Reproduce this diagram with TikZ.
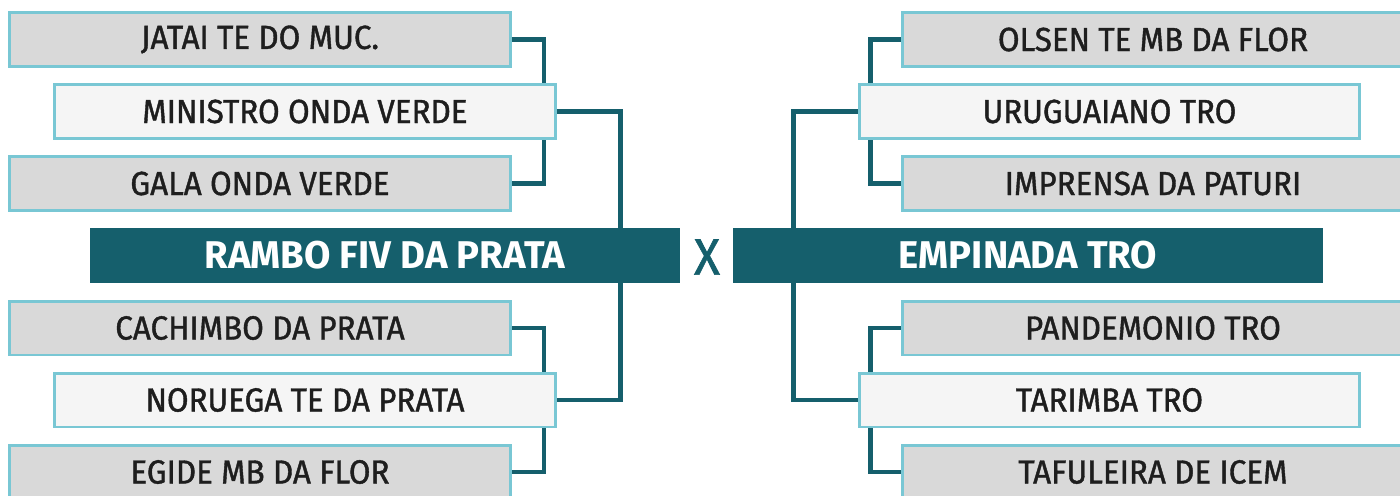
\documentclass[tikz,border=0pt]{standalone}
\usepackage{fontspec}
\setmainfont{Fira Sans}
\newfontfamily\teamfont{Fira Sans}[FakeStretch=0.94,FakeBold=1.2]
\newfontfamily\finalfont{Fira Sans}[FakeStretch=0.99]
\usetikzlibrary{backgrounds}
\definecolor{petrol}{HTML}{155F6C}
\definecolor{cyanline}{HTML}{79C7D4}
\definecolor{boxgray}{HTML}{D9D9D9}
\definecolor{boxlight}{HTML}{F5F5F5}
\definecolor{ink}{HTML}{1E1E1E}
\begin{document}
\begin{tikzpicture}[x=0.02cm,y=-0.02cm,
  team/.style={draw=cyanline,line width=1.7pt,fill=boxgray,minimum width=10.02cm,minimum height=1.08cm,inner sep=0pt,text=ink,font=\teamfont\fontsize{19}{19}\selectfont},
  seed/.style={team,fill=boxlight},
  final/.style={fill=petrol,minimum width=11.8cm,minimum height=1.1cm,inner sep=0pt,text=white,font=\finalfont\bfseries\fontsize{22}{22}\selectfont},
  link/.style={draw=petrol,line width=2.55pt}]
\useasboundingbox (0,0) rectangle (1400,495);
\clip (0,0) rectangle (1400,495);
% left half
\node[team] (jatai) at (260,39.5) {JATAI TE DO MUC.};
\node[seed] (ministro) at (305,111.5) {MINISTRO ONDA VERDE};
\node[team] (gala) at (260,183.5) {GALA ONDA VERDE};
\node[final] (rambo) at (385,255.5) {RAMBO FIV DA PRATA};
\node[team] (cachimbo) at (260,328) {CACHIMBO DA PRATA};
\node[seed] (noruega) at (305,400) {NORUEGA TE DA PRATA};
\node[team] (egide) at (260,472) {EGIDE MB DA FLOR};
\node[text=petrol,font=\teamfont\fontsize{29}{29}\selectfont] (versus) at (707,257) {X};
% right half
\node[team] (olsen) at (1153,39.5) {OLSEN TE MB DA FLOR};
\node[seed] (uruguaiano) at (1109.5,111.5) {URUGUAIANO TRO};
\node[team] (imprensa) at (1153,183.5) {IMPRENSA DA PATURI};
\node[final] (empinada) at (1028,255.5) {EMPINADA TRO};
\node[team] (pandemonio) at (1153,328) {PANDEMONIO TRO};
\node[seed] (tarimba) at (1109.5,400) {TARIMBA TRO};
\node[team] (tafuleira) at (1153,472) {TAFULEIRA DE ICEM};
\begin{scope}[on background layer]
\fill[white] (0,0) rectangle (1400,495);
\draw[link] (jatai.east) -| ([xshift=-0.26cm]ministro.north east);
\draw[link] (gala.east) -| ([xshift=-0.26cm]ministro.south east);
\draw[link] (ministro.east) -| ([xshift=-1.2cm]rambo.north east);
\draw[link] (cachimbo.east) -| ([xshift=-0.26cm]noruega.north east);
\draw[link] (egide.east) -| ([xshift=-0.26cm]noruega.south east);
\draw[link] (noruega.east) -| ([xshift=-1.2cm]rambo.south east);
\draw[link] (olsen.west) -| ([xshift=0.26cm]uruguaiano.north west);
\draw[link] (imprensa.west) -| ([xshift=0.26cm]uruguaiano.south west);
\draw[link] (uruguaiano.west) -| ([xshift=1.22cm]empinada.north west);
\draw[link] (pandemonio.west) -| ([xshift=0.26cm]tarimba.north west);
\draw[link] (tafuleira.west) -| ([xshift=0.26cm]tarimba.south west);
\draw[link] (tarimba.west) -| ([xshift=1.22cm]empinada.south west);
\end{scope}
\end{tikzpicture}
\end{document}
